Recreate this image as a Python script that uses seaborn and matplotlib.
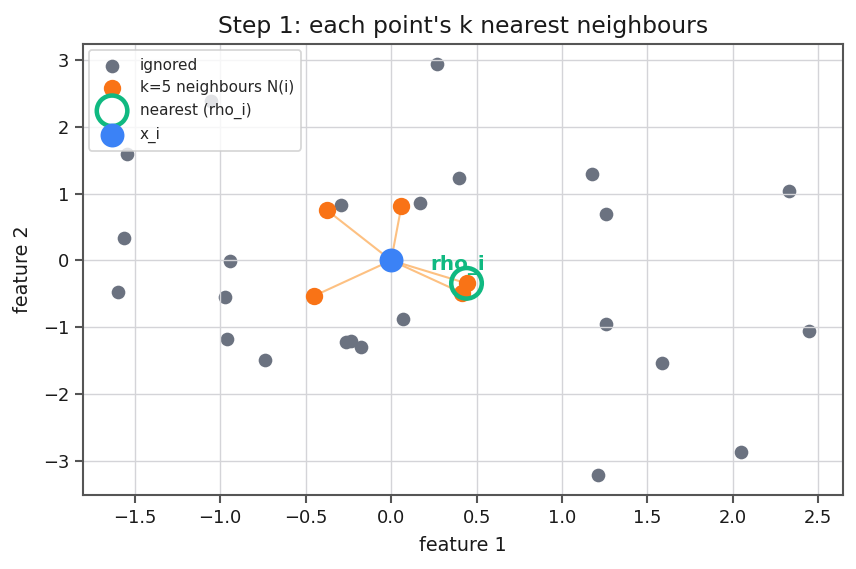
import numpy as np
import pandas as pd
import matplotlib
matplotlib.use("Agg")
import matplotlib.pyplot as plt
import seaborn as sns

# ----------------------------------------------------------
# DATA
# ----------------------------------------------------------

ignored_x = [0.268, 0.397, 0.169, 1.177, 1.259, 2.326, 0.069, 1.259, 2.443,
             1.587, 1.212, 2.050, -0.294, -0.263, -0.233, -0.175, -1.566,
             -0.945, -1.601, -0.974, -0.960, -0.740, -1.543, -1.052]
ignored_y = [2.94, 1.24, 0.866, 1.30, 0.70, 1.045, -0.88, -0.955, -1.06,
             -1.54, -3.21, -2.87, 0.825, -1.23, -1.215, -1.30, 0.33,
             -0.01, -0.48, -0.55, -1.18, -1.49, 1.60, 2.39]

neigh_x = [0.441, 0.417, 0.060, -0.374, -0.452]
neigh_y = [-0.343, -0.49, 0.815, 0.75, -0.533]

xi = (0.0, 0.0)
k = 5

GRAY = "#6b7280"
ORANGE = "#f97316"
GREEN = "#10b981"
BLUE = "#3b82f6"

ignored = pd.DataFrame({"f1": ignored_x, "f2": ignored_y})
neigh = pd.DataFrame({"f1": neigh_x, "f2": neigh_y})
nearest = neigh.iloc[[0]]

# ----------------------------------------------------------
# PLOT
# ----------------------------------------------------------

sns.set_style("ticks")
plt.rcParams["font.family"] = ["DejaVu Sans"]

fig, ax = plt.subplots(figsize=(6.848, 4.552), dpi=125)
fig.subplots_adjust(left=0.097, right=0.985, top=0.923, bottom=0.130)

ax.grid(True, color="#d4d4d8", linewidth=0.8)
ax.set_axisbelow("line")

S_GRAY, S_ORANGE, S_RING, S_BLUE = 62, 100, 310, 190

sns.scatterplot(data=ignored, x="f1", y="f2", color=GRAY, s=S_GRAY,
                linewidth=0, label="ignored", ax=ax, zorder=1)

for px, py in zip(neigh_x, neigh_y):
    ax.plot([xi[0], px], [xi[1], py], color="#fdba74", linewidth=1.2,
            alpha=0.9, zorder=2)

sns.scatterplot(data=neigh, x="f1", y="f2", color=ORANGE, s=S_ORANGE,
                linewidth=0, label=f"k={k} neighbours N(i)", ax=ax, zorder=3)

nx, ny = nearest["f1"].iloc[0], nearest["f2"].iloc[0]
ax.text(nx - 0.05, ny + 0.27, "rho_i", color=GREEN, fontsize=11.5,
        fontweight="bold", ha="center", va="center", zorder=3)

ax.scatter(nearest["f1"], nearest["f2"], s=S_RING, facecolors="none",
           edgecolors=GREEN, linewidths=2.6, label="nearest (rho_i)", zorder=4)

ax.scatter([xi[0]], [xi[1]], s=S_BLUE, color=BLUE, linewidths=0,
           label="x_i", zorder=5)

for sp in ax.spines.values():
    sp.set_color("#555555")
    sp.set_linewidth(1.2)
ax.tick_params(colors="#555555", labelcolor="#1a1a1a", labelsize=10.3,
               length=4.5, width=1.2)

ax.set_title("Step 1: each point's k nearest neighbours", fontsize=13.5,
             color="#1a1a1a")
ax.set_xlabel("feature 1", fontsize=11, color="#1a1a1a", labelpad=5)
ax.set_ylabel("feature 2", fontsize=11, color="#1a1a1a", labelpad=6)

leg = ax.legend(loc="upper left", fontsize=8.8, framealpha=0.8,
                borderpad=0.5, handletextpad=0.8, borderaxespad=0.4)
leg.get_frame().set_edgecolor("#cccccc")
for h, s in zip(leg.legend_handles, [S_GRAY, S_ORANGE, S_RING, S_BLUE]):
    h.set_sizes([s])

fig.savefig("out.png", dpi=125)
